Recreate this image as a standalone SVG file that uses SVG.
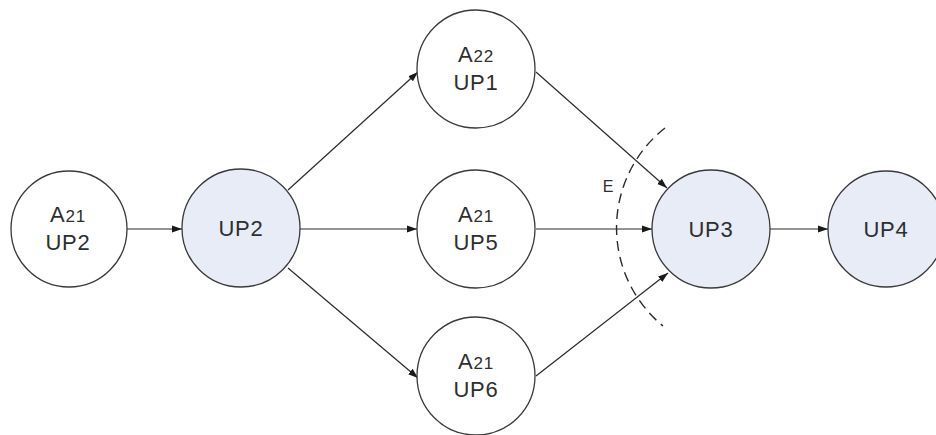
<svg xmlns="http://www.w3.org/2000/svg" width="936" height="435" viewBox="0 0 936 435">
<style>
.n{stroke:#3a3a3a;stroke-width:1.3;fill:#fff}
.b{fill:#e7ecf6}
.t{font-family:"Liberation Sans",Arial,sans-serif;font-size:22px;letter-spacing:0.8px;fill:#2e2e2e;text-anchor:middle}
.s{font-size:17px}
.c{stroke:#2a2a2a;stroke-width:1.2;fill:none}
.d{stroke:#2a2a2a;stroke-width:1.4;fill:none;stroke-dasharray:10 6}
</style>
<defs>
<marker id="ah" viewBox="0 0 10 10" refX="10" refY="5" markerWidth="10" markerHeight="10" markerUnits="userSpaceOnUse" orient="auto">
<path d="M0,1.5 L10,5 L0,8.5 Z" fill="#1a1a1a"/>
</marker>
</defs>
<rect width="936" height="435" fill="#fff"/>
<g id="connectors">
<line class="c" x1="127" y1="229" x2="182" y2="229" marker-end="url(#ah)"/>
<line class="c" x1="288" y1="190" x2="418" y2="72" marker-end="url(#ah)"/>
<line class="c" x1="300" y1="229" x2="417" y2="229" marker-end="url(#ah)"/>
<line class="c" x1="288" y1="268" x2="418" y2="378" marker-end="url(#ah)"/>
<line class="c" x1="536" y1="72" x2="667" y2="188" marker-end="url(#ah)"/>
<line class="c" x1="536" y1="229" x2="652" y2="229" marker-end="url(#ah)"/>
<line class="c" x1="536" y1="376" x2="668" y2="273" marker-end="url(#ah)"/>
<line class="c" x1="770" y1="229" x2="828" y2="229" marker-end="url(#ah)"/>
</g>
<g id="boundary">
<path class="d" d="M665 128 A127 127 0 0 0 663 326"/>
<text class="t" x="608" y="192" style="font-size:16px;letter-spacing:0">E</text>
</g>
<g id="n1">
<circle class="n" cx="69" cy="229" r="58"/>
<text class="t" x="68" y="222">A<tspan class="s">21</tspan></text>
<text class="t" x="68" y="250">UP2</text>
</g>
<g id="n2">
<circle class="n b" cx="241" cy="228" r="59"/>
<text class="t" x="241" y="236">UP2</text>
</g>
<g id="n3">
<circle class="n" cx="476" cy="69" r="59"/>
<text class="t" x="476" y="62">A<tspan class="s">22</tspan></text>
<text class="t" x="476" y="90">UP1</text>
</g>
<g id="n4">
<circle class="n" cx="476" cy="229" r="59"/>
<text class="t" x="476" y="222">A<tspan class="s">21</tspan></text>
<text class="t" x="476" y="250">UP5</text>
</g>
<g id="n5">
<circle class="n" cx="476" cy="376" r="59"/>
<text class="t" x="476" y="369">A<tspan class="s">21</tspan></text>
<text class="t" x="476" y="397">UP6</text>
</g>
<g id="n6">
<circle class="n b" cx="711" cy="229" r="59"/>
<text class="t" x="711" y="237">UP3</text>
</g>
<g id="n7">
<circle class="n b" cx="886" cy="229" r="58"/>
<text class="t" x="886" y="237">UP4</text>
</g>
</svg>
